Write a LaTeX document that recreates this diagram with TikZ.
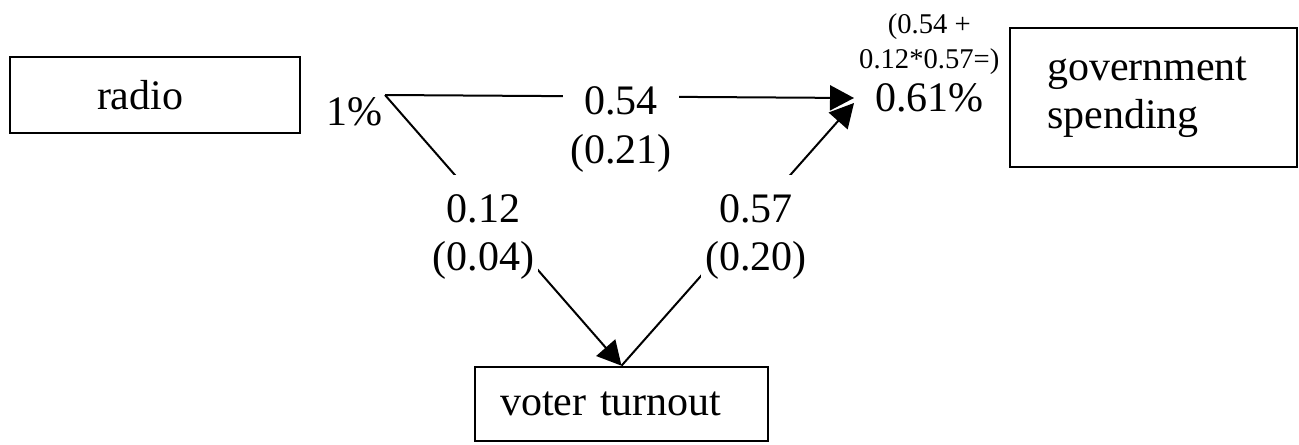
\documentclass[tikz,border=0pt]{standalone}
\usepackage{fontspec}
\setmainfont{Liberation Serif}
\usetikzlibrary{arrows.meta,positioning}

\def\bigtext{\fontsize{21}{24}\selectfont}
\def\smalltext{\fontsize{14.3}{17.5}\selectfont}

\begin{document}
\begin{tikzpicture}[x=0.5pt, y=-0.5pt, line width=1pt, >={Triangle[length=12pt,width=12.5pt]}, font=\bigtext]
    \tikzstyle{var box}=[draw, line width=1.3pt, align=left, inner ysep=0pt]
    \tikzstyle{coef label}=[fill=white, align=center, inner xsep=2pt, inner ysep=10pt]
    \tikzstyle{share label}=[inner sep=1pt]

    \useasboundingbox (0,0) rectangle (1299,444);

    % Draw the three variables
    \node[var box, text width=58pt, inner xsep=43.5pt, minimum height=38pt] (radio) at (155,95) {radio};
    \node[var box, text width=106.5pt, inner xsep=18.5pt, minimum height=69.5pt] (spending) at (1153.5,97.5) {government\\spending};
    \node[var box, text width=121.5pt, inner xsep=12.5pt, minimum height=37pt] (turnout) at (621.5,404) {voter turnout};

    \coordinate (apex) at (385,95);
    \coordinate (meet) at (854,98);

    % Shares at both ends
    \node[share label, anchor=north east] (share) at (apex) {1\%};
    \node[share label, right=9pt of meet] (total) {0.61\%};
    \node[share label, above=1.5pt of total, align=center, font=\smalltext] (sum) {(0.54 +\\0.12*0.57=)};

    % Paths with their weights
    \draw[->] (apex) -- node[coef label, pos=0.503, yshift=-2pt, inner xsep=10.5pt, inner ysep=1pt] (w54) {0.54} (meet);
    \node[share label, below=7pt of w54] (se54) {(0.21)};

    \draw[->] (apex) -- node[coef label, pos=0.526, xshift=-13pt] (w12) {0.12\\(0.04)} (turnout.north);
    \draw[->] (turnout.north) -- node[coef label, pos=0.489, xshift=10.5pt] (w57) {0.57\\(0.20)} ([yshift=-2.5pt]meet);
\end{tikzpicture}
\end{document}
